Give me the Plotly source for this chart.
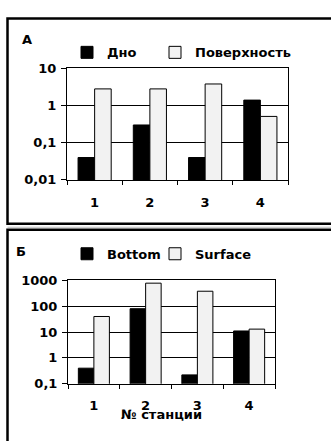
import plotly.graph_objects as go

# ---- data ----
stations = ["1", "2", "3", "4"]
bottom_A = [0.04, 0.3, 0.04, 1.4]
surface_A = [2.8, 2.8, 3.8, 0.51]
bottom_B = [0.4, 80, 0.22, 11]
surface_B = [40, 780, 380, 13]
names_A = ["Дно", "Поверхность"]
names_B = ["Bottom", "Surface"]
yticks_A = [0.01, 0.1, 1, 10]
yticklabels_A = ["0,01", "0,1", "1", "10"]
yticks_B = [0.1, 1, 10, 100, 1000]
yticklabels_B = ["0,1", "1", "10", "100", "1000"]
panel_labels = ["А", "Б"]
xtitle = "№ станции"

W, H = 331, 441
def px(x):
    return x / W
def py(y):
    return 1 - y / H

DARK = "#000000"
LIGHT = "#f2f2f2"
FONT = dict(family="DejaVu Sans", size=13, color="black", weight="bold")

fig = go.Figure()
fig.add_trace(go.Bar(x=stations, y=bottom_A, name=names_A[0], showlegend=True,
                     marker=dict(color=DARK, line=dict(color="black", width=1)),
                     xaxis="x", yaxis="y", legend="legend"))
fig.add_trace(go.Bar(x=stations, y=surface_A, name=names_A[1], showlegend=True,
                     marker=dict(color=LIGHT, line=dict(color="black", width=1)),
                     xaxis="x", yaxis="y", legend="legend2"))
fig.add_trace(go.Bar(x=stations, y=bottom_B, name=names_B[0], showlegend=True,
                     marker=dict(color=DARK, line=dict(color="black", width=1)),
                     xaxis="x2", yaxis="y2", legend="legend3"))
fig.add_trace(go.Bar(x=stations, y=surface_B, name=names_B[1], showlegend=True,
                     marker=dict(color=LIGHT, line=dict(color="black", width=1)),
                     xaxis="x2", yaxis="y2", legend="legend4"))

xcommon = dict(type="category", showline=True, mirror=True, linecolor="black", linewidth=1,
               ticks="outside", tickson="boundaries", ticklen=4, tickcolor="black",
               showgrid=False, tickfont=FONT, ticklabelstandoff=10, fixedrange=True)
ycommon = dict(type="log", showline=True, mirror=True, linecolor="black", linewidth=1,
               ticks="outside", ticklen=5, tickcolor="black", showgrid=True, gridcolor="black",
               gridwidth=1, tickfont=FONT, ticklabelstandoff=2, zeroline=False, fixedrange=True)

legcommon = dict(orientation="h", xanchor="left", yanchor="middle", font=FONT,
                 bgcolor="rgba(0,0,0,0)", itemclick=False, itemdoubleclick=False)

fig.update_layout(
    width=W, height=H,
    margin=dict(l=0, r=0, t=0, b=0),
    paper_bgcolor="white", plot_bgcolor="white",
    showlegend=True,
    barmode="group", bargap=0.4, bargroupgap=0,
    font=FONT,
    xaxis=dict(domain=[px(67), px(288)], anchor="y", **xcommon),
    yaxis=dict(domain=[py(179), py(63.5)], anchor="x", range=[-2, 1],
               tickvals=yticks_A, ticktext=yticklabels_A, **ycommon),
    xaxis2=dict(domain=[px(68), px(275)], anchor="y2", **xcommon),
    yaxis2=dict(domain=[py(390), py(283)], anchor="x2", range=[-1, 3],
                tickvals=yticks_B, ticktext=yticklabels_B, **ycommon),
    legend=dict(x=px(67), y=py(47), **legcommon),
    legend2=dict(x=px(155), y=py(47), **legcommon),
    legend3=dict(x=px(67), y=py(255.5), **legcommon),
    legend4=dict(x=px(155), y=py(255.5), **legcommon),
    shapes=[
        dict(type="rect", xref="paper", yref="paper", x0=px(7.5), x1=px(340), y0=py(224.5), y1=py(12),
             line=dict(color="black", width=2.5), fillcolor="rgba(0,0,0,0)"),
        dict(type="line", xref="paper", yref="paper", x0=px(7.5), x1=px(340), y0=py(228), y1=py(228),
             line=dict(color="#bbbbbb", width=1)),
        dict(type="rect", xref="paper", yref="paper", x0=px(7.5), x1=px(340), y0=py(470), y1=py(230.5),
             line=dict(color="black", width=2.5), fillcolor="rgba(0,0,0,0)"),
    ],
    annotations=[
        dict(text=panel_labels[0], xref="paper", yref="paper", x=px(27), y=py(34), showarrow=False,
             xanchor="center", yanchor="middle", font=FONT),
        dict(text=panel_labels[1], xref="paper", yref="paper", x=px(21), y=py(253), showarrow=False,
             xanchor="center", yanchor="middle", font=FONT),
        dict(text=xtitle, xref="paper", yref="paper", x=px(161), y=py(421.5), showarrow=False,
             xanchor="center", yanchor="middle", font=FONT),
    ],
)

fig.write_html("out.html", config={"displayModeBar": False},
               post_script="document.body.style.margin='0';")
